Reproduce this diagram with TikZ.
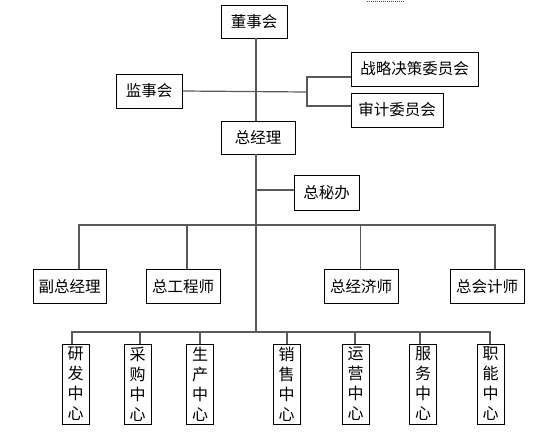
\documentclass[tikz,border=0pt]{standalone}
\usepackage{fontspec}
\setmainfont{Noto Sans CJK SC}
\begin{document}
\begin{tikzpicture}[x=1pt,y=-1pt,
  box/.style={draw=black, line width=0.9pt, inner sep=0pt, font=\fontsize{15.5}{18}\selectfont, fill=white},
  vbox/.style={box, minimum width=27pt, minimum height=80pt, align=center, font=\fontsize{16}{20}\selectfont},
  conn/.style={draw=black!65, line width=1.2pt}]
\useasboundingbox (0,0) rectangle (545,434);
\draw[red, densely dotted, line width=1pt] (367,1) -- (405,1);
% nodes
\node[box, minimum width=66pt, minimum height=33pt] (dsh) at (254,21.5) {董事会};
\node[box, minimum width=66pt, minimum height=34pt] (jsh) at (149,91) {监事会};
\node[box, minimum width=127pt, minimum height=34pt] (zl) at (414.5,69) {战略决策委员会};
\node[box, minimum width=92pt, minimum height=34pt] (sj) at (397,110) {审计委员会};
\node[box, minimum width=74pt, minimum height=33pt] (zjl) at (258,137.5) {总经理};
\node[box, minimum width=65pt, minimum height=35pt] (zmb) at (326.5,192.5) {总秘办};
\node[box, minimum width=73pt, minimum height=34pt] (fz) at (69.5,286.5) {副总经理};
\node[box, minimum width=74pt, minimum height=34pt] (zg) at (183,286.5) {总工程师};
\node[box, minimum width=74pt, minimum height=34pt] (zj) at (361,286.5) {总经济师};
\node[box, minimum width=74pt, minimum height=34pt] (zk) at (487,286.5) {总会计师};
\node[vbox] (yf) at (75.5,384) {研\\发\\中\\心};
\node[vbox] (cg) at (137.5,384) {采\\购\\中\\心};
\node[vbox] (sc) at (200,384) {生\\产\\中\\心};
\node[vbox] (xs) at (286.5,384) {销\\售\\中\\心};
\node[vbox] (yy) at (355.5,384) {运\\营\\中\\心};
\node[vbox] (fw) at (423,384) {服\\务\\中\\心};
\node[vbox] (zn) at (490.5,384) {职\\能\\中\\心};
% coordinates
\coordinate (m) at (256,92);
\coordinate (br) at (307,92);
\coordinate (bus1) at (256,225);
\coordinate (bus2) at (256,332);
% connectors
\draw[conn] (dsh.south -| m) -- (zjl.north -| m);
\draw[conn] (jsh.east) -- (br);
\draw[conn] (zl.west |- 0,77) -- (307,77) -- (307,106) -- (sj.west |- 0,106);
\draw[conn] (zjl.south -| m) -- (bus2);
\draw[conn] (256,190) -- (zmb.west |- 0,190);
\draw[conn] (fz.north -| 79,0) -- (79,225) -- (495,225) -- (zk.north -| 495,0);
\draw[conn] (187,225) -- (zg.north -| 187,0);
\draw[conn] (360.5,225) -- (zj.north -| 360.5,0);
\draw[conn] (yf.north -| 72,0) -- (72,332) -- (490,332) -- (zn.north -| 490,0);
\draw[conn] (140,332) -- (cg.north -| 140,0);
\draw[conn] (200,332) -- (sc.north);
\draw[conn] (287,332) -- (xs.north -| 287,0);
\draw[conn] (355,332) -- (yy.north -| 355,0);
\draw[conn] (420,332) -- (fw.north -| 420,0);
\end{tikzpicture}
\end{document}
